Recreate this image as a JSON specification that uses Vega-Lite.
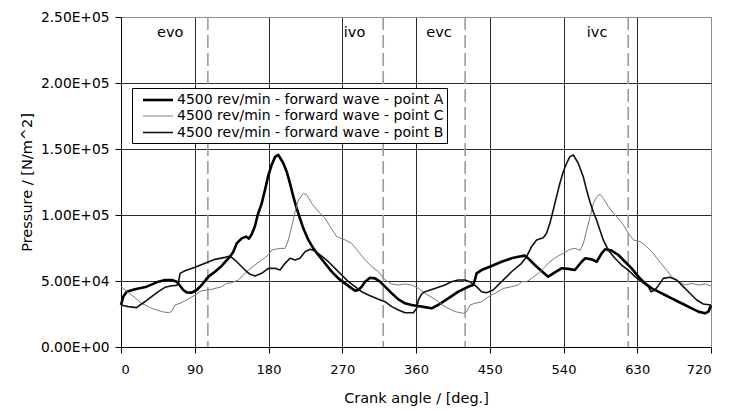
{
  "$schema": "https://vega.github.io/schema/vega-lite/v6.json",
  "width": 590,
  "height": 330,
  "autosize": "none",
  "padding": {"left": 121, "top": 17, "right": 27, "bottom": 64},
  "background": "white",
  "config": {
    "font": "DejaVu Sans",
    "view": {"stroke": "#8c8c8c", "strokeWidth": 1}
  },
  "datasets": {
    "lines": [
      {"s":"A","a":0,"p":31800},{"s":"A","a":2.8,"p":38100},{"s":"A","a":6.9,"p":41900},{"s":"A","a":17.1,"p":43700},{"s":"A","a":31.3,"p":45700},{"s":"A","a":45.6,"p":49500},{"s":"A","a":53.7,"p":50800},{"s":"A","a":61.9,"p":50800},{"s":"A","a":68,"p":49500},{"s":"A","a":72,"p":46400},{"s":"A","a":76,"p":43200},{"s":"A","a":80.2,"p":41400},{"s":"A","a":86.3,"p":41200},{"s":"A","a":92.4,"p":43200},{"s":"A","a":98.5,"p":47000},{"s":"A","a":106.6,"p":53300},{"s":"A","a":114.7,"p":57000},{"s":"A","a":122.8,"p":61400},{"s":"A","a":133,"p":68400},{"s":"A","a":137.1,"p":72200},{"s":"A","a":141.2,"p":78500},{"s":"A","a":147.3,"p":82300},{"s":"A","a":152.6,"p":83600},{"s":"A","a":156.2,"p":82100},{"s":"A","a":159.5,"p":85400},{"s":"A","a":163.5,"p":91700},{"s":"A","a":166.8,"p":100000},{"s":"A","a":171.7,"p":108800},{"s":"A","a":175.7,"p":118900},{"s":"A","a":179.8,"p":130000},{"s":"A","a":183.9,"p":138000},{"s":"A","a":188,"p":144000},{"s":"A","a":192,"p":145500},{"s":"A","a":198.1,"p":139200},{"s":"A","a":202.2,"p":132800},{"s":"A","a":206.2,"p":124000},{"s":"A","a":210.3,"p":113900},{"s":"A","a":214.4,"p":105000},{"s":"A","a":218.4,"p":97500},{"s":"A","a":222.5,"p":89900},{"s":"A","a":228.6,"p":81100},{"s":"A","a":234.7,"p":74700},{"s":"A","a":240.8,"p":69700},{"s":"A","a":248.9,"p":63400},{"s":"A","a":257.1,"p":57100},{"s":"A","a":265.2,"p":52000},{"s":"A","a":273.4,"p":48200},{"s":"A","a":281.5,"p":44400},{"s":"A","a":285.6,"p":42700},{"s":"A","a":289.6,"p":43200},{"s":"A","a":293.7,"p":45700},{"s":"A","a":297.8,"p":49500},{"s":"A","a":303.9,"p":52500},{"s":"A","a":310,"p":52000},{"s":"A","a":316.1,"p":49500},{"s":"A","a":322.2,"p":45700},{"s":"A","a":330.3,"p":40700},{"s":"A","a":338.5,"p":36100},{"s":"A","a":346.6,"p":33100},{"s":"A","a":354.7,"p":31800},{"s":"A","a":362,"p":31000},{"s":"A","a":367,"p":30600},{"s":"A","a":379,"p":29300},{"s":"A","a":387,"p":31800},{"s":"A","a":399.4,"p":36900},{"s":"A","a":411.6,"p":41900},{"s":"A","a":419.7,"p":44400},{"s":"A","a":425.8,"p":46200},{"s":"A","a":429.9,"p":47000},{"s":"A","a":431.9,"p":50800},{"s":"A","a":433.9,"p":55800},{"s":"A","a":440,"p":58300},{"s":"A","a":452.2,"p":61400},{"s":"A","a":464.4,"p":64600},{"s":"A","a":476.6,"p":67200},{"s":"A","a":484.7,"p":68400},{"s":"A","a":492.8,"p":69200},{"s":"A","a":496.9,"p":67200},{"s":"A","a":505.1,"p":62100},{"s":"A","a":513.2,"p":57600},{"s":"A","a":521.3,"p":53300},{"s":"A","a":529.5,"p":56600},{"s":"A","a":537.6,"p":59600},{"s":"A","a":545.7,"p":59200},{"s":"A","a":553.9,"p":58300},{"s":"A","a":562.2,"p":64600},{"s":"A","a":566.3,"p":67200},{"s":"A","a":574.4,"p":66400},{"s":"A","a":580.5,"p":64600},{"s":"A","a":586.6,"p":71000},{"s":"A","a":590.7,"p":74000},{"s":"A","a":598.8,"p":73000},{"s":"A","a":607,"p":69700},{"s":"A","a":615.1,"p":64600},{"s":"A","a":623.2,"p":59600},{"s":"A","a":631.4,"p":53300},{"s":"A","a":639.5,"p":48200},{"s":"A","a":647.6,"p":44400},{"s":"A","a":655.8,"p":41900},{"s":"A","a":663.9,"p":39400},{"s":"A","a":672,"p":36900},{"s":"A","a":680.2,"p":34300},{"s":"A","a":688.3,"p":31800},{"s":"A","a":696.4,"p":29300},{"s":"A","a":704.6,"p":26800},{"s":"A","a":712.7,"p":25500},{"s":"A","a":716.8,"p":26800},{"s":"A","a":720,"p":31500},
      {"s":"C","a":0,"p":45700},{"s":"C","a":13,"p":39400},{"s":"C","a":25.2,"p":33100},{"s":"C","a":37.4,"p":29300},{"s":"C","a":49.6,"p":26800},{"s":"C","a":57.8,"p":26000},{"s":"C","a":61.8,"p":26800},{"s":"C","a":65.9,"p":31800},{"s":"C","a":72,"p":33100},{"s":"C","a":80.2,"p":35600},{"s":"C","a":90.3,"p":39400},{"s":"C","a":98.5,"p":42700},{"s":"C","a":110.6,"p":43700},{"s":"C","a":122.8,"p":45700},{"s":"C","a":129,"p":48200},{"s":"C","a":135,"p":48700},{"s":"C","a":143.2,"p":50800},{"s":"C","a":149.3,"p":54500},{"s":"C","a":155.4,"p":58300},{"s":"C","a":163.5,"p":62100},{"s":"C","a":171.7,"p":65900},{"s":"C","a":179.8,"p":69700},{"s":"C","a":183.9,"p":73500},{"s":"C","a":194.1,"p":74700},{"s":"C","a":200.2,"p":74700},{"s":"C","a":204.3,"p":81100},{"s":"C","a":208.3,"p":91200},{"s":"C","a":212.4,"p":102500},{"s":"C","a":216.5,"p":111400},{"s":"C","a":222.6,"p":116400},{"s":"C","a":226.7,"p":115200},{"s":"C","a":232.8,"p":108800},{"s":"C","a":240.9,"p":102500},{"s":"C","a":249.1,"p":97500},{"s":"C","a":255.2,"p":91200},{"s":"C","a":263.3,"p":83600},{"s":"C","a":273.5,"p":81100},{"s":"C","a":281.6,"p":78500},{"s":"C","a":289.8,"p":72200},{"s":"C","a":297.9,"p":65900},{"s":"C","a":306,"p":60900},{"s":"C","a":314.2,"p":57000},{"s":"C","a":322.3,"p":50800},{"s":"C","a":330.4,"p":47700},{"s":"C","a":338.6,"p":47000},{"s":"C","a":346.7,"p":47700},{"s":"C","a":354.8,"p":47000},{"s":"C","a":358.8,"p":45700},{"s":"C","a":363,"p":44400},{"s":"C","a":371,"p":40700},{"s":"C","a":383.2,"p":36100},{"s":"C","a":395.4,"p":30600},{"s":"C","a":407.6,"p":26800},{"s":"C","a":417.7,"p":25500},{"s":"C","a":421.8,"p":26800},{"s":"C","a":425.9,"p":31800},{"s":"C","a":432,"p":33100},{"s":"C","a":440.1,"p":34300},{"s":"C","a":448.3,"p":38100},{"s":"C","a":456.4,"p":40700},{"s":"C","a":466.6,"p":44400},{"s":"C","a":476.7,"p":45700},{"s":"C","a":484.9,"p":47000},{"s":"C","a":488.9,"p":49500},{"s":"C","a":495,"p":49500},{"s":"C","a":501.1,"p":52000},{"s":"C","a":509.3,"p":55800},{"s":"C","a":515.4,"p":59600},{"s":"C","a":523.5,"p":64600},{"s":"C","a":531.7,"p":68400},{"s":"C","a":539.8,"p":71000},{"s":"C","a":547.9,"p":74000},{"s":"C","a":554.1,"p":74700},{"s":"C","a":560.2,"p":73200},{"s":"C","a":564.3,"p":78500},{"s":"C","a":568.3,"p":88600},{"s":"C","a":572.4,"p":98700},{"s":"C","a":576.5,"p":108800},{"s":"C","a":580.5,"p":113900},{"s":"C","a":584.6,"p":115700},{"s":"C","a":588.7,"p":112600},{"s":"C","a":594.8,"p":106300},{"s":"C","a":600.9,"p":101300},{"s":"C","a":607,"p":97500},{"s":"C","a":613.1,"p":92400},{"s":"C","a":619.2,"p":86100},{"s":"C","a":625.3,"p":81100},{"s":"C","a":633.4,"p":79800},{"s":"C","a":639.5,"p":77300},{"s":"C","a":647.7,"p":72200},{"s":"C","a":655.8,"p":65900},{"s":"C","a":664,"p":59600},{"s":"C","a":672.1,"p":53300},{"s":"C","a":680.2,"p":49500},{"s":"C","a":688.4,"p":47000},{"s":"C","a":696.5,"p":48200},{"s":"C","a":704.6,"p":47000},{"s":"C","a":712.8,"p":47700},{"s":"C","a":720,"p":46400},
      {"s":"B","a":0,"p":31800},{"s":"B","a":8.9,"p":30600},{"s":"B","a":19,"p":29800},{"s":"B","a":23.1,"p":31800},{"s":"B","a":29.3,"p":34300},{"s":"B","a":37.4,"p":38100},{"s":"B","a":45.6,"p":41900},{"s":"B","a":53.7,"p":45200},{"s":"B","a":61.9,"p":46400},{"s":"B","a":68,"p":46700},{"s":"B","a":70,"p":48200},{"s":"B","a":72,"p":55800},{"s":"B","a":78.1,"p":57800},{"s":"B","a":90.3,"p":60400},{"s":"B","a":102.5,"p":63400},{"s":"B","a":114.7,"p":66400},{"s":"B","a":126.9,"p":67900},{"s":"B","a":133,"p":68900},{"s":"B","a":139.1,"p":65900},{"s":"B","a":145.2,"p":62100},{"s":"B","a":151.3,"p":58300},{"s":"B","a":157.5,"p":55100},{"s":"B","a":163.6,"p":53800},{"s":"B","a":171.7,"p":55800},{"s":"B","a":179.8,"p":59600},{"s":"B","a":188,"p":59600},{"s":"B","a":194.1,"p":58300},{"s":"B","a":200.2,"p":63400},{"s":"B","a":206.3,"p":67200},{"s":"B","a":212.4,"p":65900},{"s":"B","a":218.4,"p":67200},{"s":"B","a":224.6,"p":72200},{"s":"B","a":230.7,"p":74000},{"s":"B","a":236.8,"p":72700},{"s":"B","a":244.9,"p":68900},{"s":"B","a":253.1,"p":64600},{"s":"B","a":261.2,"p":59600},{"s":"B","a":269.3,"p":54500},{"s":"B","a":277.5,"p":49500},{"s":"B","a":285.6,"p":45700},{"s":"B","a":293.7,"p":41900},{"s":"B","a":301.9,"p":39400},{"s":"B","a":314.1,"p":36100},{"s":"B","a":322.2,"p":34300},{"s":"B","a":330.3,"p":30600},{"s":"B","a":338.5,"p":28000},{"s":"B","a":346.6,"p":26000},{"s":"B","a":356.8,"p":26000},{"s":"B","a":360.8,"p":29300},{"s":"B","a":362.9,"p":35600},{"s":"B","a":367,"p":40200},{"s":"B","a":371,"p":41900},{"s":"B","a":383,"p":44400},{"s":"B","a":395.2,"p":47000},{"s":"B","a":403.3,"p":49500},{"s":"B","a":411.5,"p":50800},{"s":"B","a":419.6,"p":50800},{"s":"B","a":425.7,"p":49500},{"s":"B","a":429.8,"p":47700},{"s":"B","a":433.9,"p":45700},{"s":"B","a":440,"p":41900},{"s":"B","a":446.1,"p":41100},{"s":"B","a":454.2,"p":43200},{"s":"B","a":464.4,"p":49500},{"s":"B","a":476.6,"p":57000},{"s":"B","a":488.8,"p":63400},{"s":"B","a":494.9,"p":68400},{"s":"B","a":501,"p":76000},{"s":"B","a":507.1,"p":81100},{"s":"B","a":515.3,"p":82800},{"s":"B","a":519.3,"p":86100},{"s":"B","a":523.4,"p":93700},{"s":"B","a":527.5,"p":103800},{"s":"B","a":531.5,"p":113900},{"s":"B","a":535.6,"p":124000},{"s":"B","a":539.7,"p":132800},{"s":"B","a":543.8,"p":139200},{"s":"B","a":547.8,"p":144200},{"s":"B","a":551.9,"p":145500},{"s":"B","a":558,"p":139200},{"s":"B","a":564.1,"p":129000},{"s":"B","a":568.2,"p":118900},{"s":"B","a":572.2,"p":110100},{"s":"B","a":576.3,"p":102500},{"s":"B","a":580.4,"p":96200},{"s":"B","a":584.4,"p":88600},{"s":"B","a":588.5,"p":81100},{"s":"B","a":594.6,"p":73500},{"s":"B","a":602.8,"p":67200},{"s":"B","a":610.9,"p":62100},{"s":"B","a":619,"p":58300},{"s":"B","a":627.2,"p":53300},{"s":"B","a":635.3,"p":49500},{"s":"B","a":643.5,"p":45700},{"s":"B","a":646.7,"p":41900},{"s":"B","a":651.6,"p":43200},{"s":"B","a":657.7,"p":48200},{"s":"B","a":661.8,"p":52000},{"s":"B","a":669.9,"p":52800},{"s":"B","a":678.1,"p":50800},{"s":"B","a":686.2,"p":45700},{"s":"B","a":694.3,"p":40700},{"s":"B","a":702.5,"p":35600},{"s":"B","a":710.6,"p":32600},{"s":"B","a":720,"p":31800}
    ],
    "events": [
      {"a": 106}, {"a": 320}, {"a": 420}, {"a": 619}
    ],
    "labels": [
      {"a": 60, "p": 238000, "t": "evo"},
      {"a": 285, "p": 238000, "t": "ivo"},
      {"a": 388, "p": 238000, "t": "evc"},
      {"a": 581, "p": 238000, "t": "ivc"}
    ]
  },
  "layer": [
    {
      "data": {"name": "events"},
      "mark": {"type": "rule", "color": "#9c9c9c", "strokeWidth": 1.6, "strokeDash": [13, 5]},
      "encoding": {
        "x": {"field": "a", "type": "quantitative"}
      }
    },
    {
      "data": {"name": "lines"},
      "mark": {"type": "line", "interpolate": "linear", "strokeJoin": "round"},
      "encoding": {
        "x": {
          "field": "a", "type": "quantitative",
          "scale": {"domain": [0, 720], "nice": false, "zero": false},
          "axis": {
            "values": [0, 90, 180, 270, 360, 450, 540, 630, 720],
            "title": "Crank angle / [deg.]",
            "titleFontSize": 14.5, "titleFontWeight": "normal", "titleColor": "black", "titlePadding": 15,
            "labelFontSize": 13, "labelColor": "black", "labelPadding": 10,
            "tickSize": 6, "tickColor": "black", "domainColor": "black",
            "grid": true,
            "gridColor": {"condition": {"test": "datum.value === 720", "value": "#8c8c8c"}, "value": "#2a2a2a"},
            "gridWidth": 1
          }
        },
        "y": {
          "field": "p", "type": "quantitative",
          "scale": {"domain": [0, 250000], "nice": false},
          "axis": {
            "values": [0, 50000, 100000, 150000, 200000, 250000],
            "labelExpr": "datum.value == 0 ? '0.00E+00' : (datum.value < 100000 ? format(datum.value / 10000, '.2f') + 'E+04' : format(datum.value / 100000, '.2f') + 'E+05')",
            "title": "Pressure / [N/m^2]",
            "titleFontSize": 14.5, "titleFontWeight": "normal", "titleColor": "black", "titlePadding": 6,
            "labelFontSize": 13.8, "labelColor": "black", "labelPadding": 6,
            "tickSize": 6, "tickColor": "black", "domainColor": "black",
            "grid": true,
            "gridColor": {"condition": {"test": "datum.value === 250000", "value": "#8c8c8c"}, "value": "#2a2a2a"},
            "gridWidth": 1
          }
        },
        "color": {
          "field": "s", "type": "nominal",
          "scale": {"domain": ["A", "C", "B"], "range": ["#000000", "#7a7a7a", "#111111"]},
          "legend": {
            "title": null,
            "orient": "none", "legendX": 11, "legendY": 71,
            "labelExpr": "'4500 rev/min - forward wave - point ' + datum.label",
            "labelFontSize": 14, "labelColor": "black", "labelOffset": 10, "labelLimit": 400,
            "symbolType": "M-2,0L2,0", "symbolSize": 225, "symbolOffset": 14,
            "rowPadding": 1, "padding": 3,
            "strokeColor": "black", "fillColor": "white"
          }
        },
        "strokeWidth": {
          "field": "s", "type": "nominal",
          "scale": {"type": "ordinal", "domain": ["A", "C", "B"], "range": [2.6, 1, 1.6]},
          "legend": null
        },
        "order": {"field": "a", "type": "quantitative"}
      }
    },
    {
      "data": {"name": "labels"},
      "mark": {"type": "text", "fontSize": 14.5, "color": "black", "baseline": "middle", "align": "center"},
      "encoding": {
        "x": {"field": "a", "type": "quantitative"},
        "y": {"field": "p", "type": "quantitative"},
        "text": {"field": "t"}
      }
    }
  ]
}
